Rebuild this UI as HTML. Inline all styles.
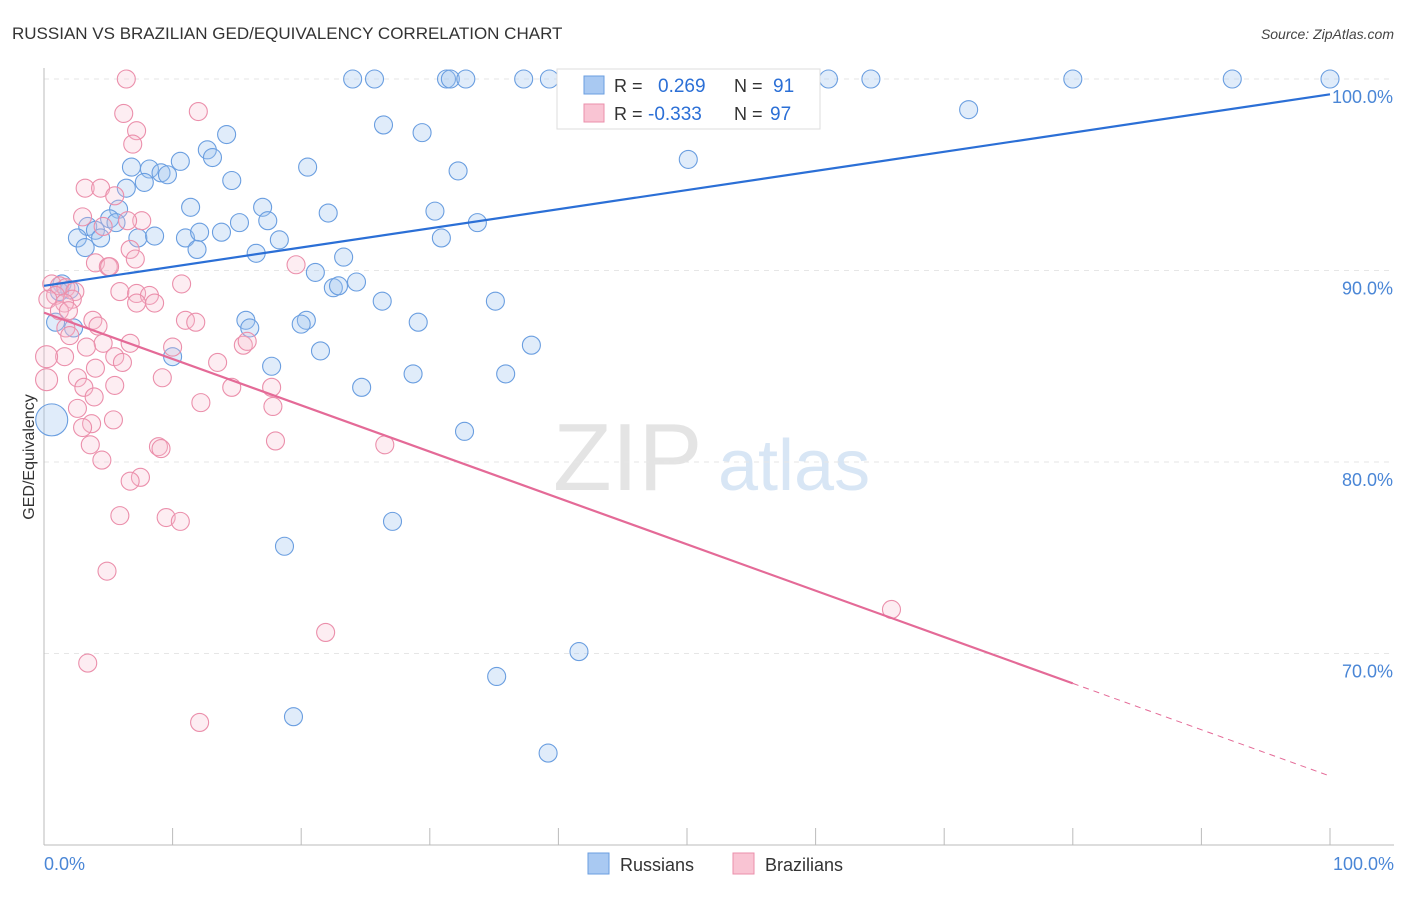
<!DOCTYPE html>
<html><head><meta charset="utf-8"><style>
body{margin:0;background:#fff;font-family:"Liberation Sans",sans-serif;}
svg text{font-family:"Liberation Sans",sans-serif;}
</style></head><body>
<svg id="chart" width="1406" height="892" viewBox="0 0 1406 892" xmlns="http://www.w3.org/2000/svg">
<text x="12" y="39" font-size="17" fill="#333">RUSSIAN VS BRAZILIAN GED/EQUIVALENCY CORRELATION CHART</text>
<text x="1394" y="39" font-size="14" fill="#444" font-style="italic" text-anchor="end">Source: ZipAtlas.com</text>
<g>
<text x="553" y="490" font-size="96" fill="#e4e4e4" font-family="Liberation Serif">ZIP</text>
<text x="718" y="490" font-size="72" fill="#d8e6f5">atlas</text>
</g>
<g id="grid"></g>
<g id="axes"></g>
<g id="pts"></g>
<g id="lines"></g>
<text transform="translate(34,457) rotate(-90)" font-size="16" fill="#333" text-anchor="middle">GED/Equivalency</text>
<g>
<rect x="557" y="69" width="263" height="60" fill="#fff" stroke="#ddd"/>
<rect x="584" y="76" width="20" height="18" fill="#a9c9f2" stroke="#6a9ee0"/>
<rect x="584" y="104" width="20" height="18" fill="#f9c4d3" stroke="#eb8fab"/>
<text x="614" y="92" font-size="18" fill="#333">R =</text>
<text x="658" y="92" font-size="19" fill="#2b6fd6">0.269</text>
<text x="734" y="92" font-size="18" fill="#333">N =</text>
<text x="773" y="92" font-size="19" fill="#2b6fd6">91</text>
<text x="614" y="120" font-size="18" fill="#333">R =</text>
<text x="648" y="120" font-size="19" fill="#2b6fd6">-0.333</text>
<text x="734" y="120" font-size="18" fill="#333">N =</text>
<text x="770" y="120" font-size="19" fill="#2b6fd6">97</text>
</g>
<g>
<rect x="588" y="853" width="21" height="21" fill="#a9c9f2" stroke="#6a9ee0"/>
<text x="620" y="871" font-size="18" fill="#333">Russians</text>
<rect x="733" y="853" width="21" height="21" fill="#f9c4d3" stroke="#eb8fab"/>
<text x="765" y="871" font-size="18" fill="#333">Brazilians</text>
</g>
</svg>
<script>
const blueX=[24.0,25.7,31.3,31.6,32.8,37.3,39.3,40.6,47.1,52.4,54.5,59.4,61.0,64.3,80.0,92.4,100,71.9,26.4,29.4,14.2,12.7,13.1,50.1,6.8,8.2,9.1,9.6,10.6,20.5,32.2,7.8,14.6,6.4,11.4,17.0,5.8,5.1,5.6,15.2,17.4,22.1,30.4,33.7,3.4,4.0,2.6,4.4,7.3,8.6,11.0,12.1,13.8,18.3,30.9,3.2,11.9,16.5,23.3,21.1,24.3,22.5,22.9,26.3,35.1,1.4,2.0,15.7,16.0,20.4,20.0,29.1,0.9,2.3,37.9,21.5,10.0,17.7,28.7,35.9,24.7,32.7,0.6,27.1,18.7,41.6,35.2,19.4,39.2,1.2];
const blueY=[100,100,100,100,100,100,100,100,100,100,100,100,100,100,100,100,100,98.4,97.6,97.2,97.1,96.3,95.9,95.8,95.4,95.3,95.1,95.0,95.7,95.4,95.2,94.6,94.7,94.3,93.3,93.3,93.2,92.7,92.5,92.5,92.6,93.0,93.1,92.5,92.3,92.1,91.7,91.7,91.7,91.8,91.7,92.0,92.0,91.6,91.7,91.2,91.1,90.9,90.7,89.9,89.4,89.1,89.2,88.4,88.4,89.3,89.0,87.4,87.0,87.4,87.2,87.3,87.3,87.0,86.1,85.8,85.5,85.0,84.6,84.6,83.9,81.6,82.2,76.9,75.6,70.1,68.8,66.7,64.8,88.9];
const blueBig=[82];
const pinkX=[6.4,12.0,6.2,7.2,6.9,3.2,4.4,5.5,3.0,7.6,6.5,4.6,6.7,7.1,4.0,5.0,5.1,19.6,10.7,0.6,1.2,1.7,2.4,0.9,2.2,0.3,1.6,5.9,7.2,8.2,8.6,7.2,1.2,1.9,3.8,11.0,11.8,4.2,1.7,2.0,4.6,6.7,10.0,3.3,5.5,6.1,13.5,1.6,0.2,15.5,15.8,4.0,9.2,2.6,0.2,5.5,14.6,17.7,3.1,3.9,17.8,12.2,2.6,3.7,5.4,3.0,18.0,8.9,9.1,26.5,3.6,4.5,7.5,6.7,5.9,9.5,10.6,4.9,21.9,65.9,3.4,12.1];
const pinkY=[100,98.3,98.2,97.3,96.6,94.3,94.3,93.9,92.8,92.6,92.6,92.3,91.1,90.6,90.4,90.2,90.2,90.3,89.3,89.3,89.2,89.1,88.9,88.7,88.5,88.5,88.3,88.9,88.8,88.7,88.3,88.3,87.9,87.9,87.4,87.4,87.3,87.1,87.0,86.6,86.2,86.2,86.0,86.0,85.5,85.2,85.2,85.5,85.5,86.1,86.3,84.9,84.4,84.4,84.3,84.0,83.9,83.9,83.9,83.4,82.9,83.1,82.8,82.0,82.2,81.8,81.1,80.8,80.7,80.9,80.9,80.1,79.2,79.0,77.2,77.1,76.9,74.3,71.1,72.3,69.5,66.4];
const pinkBig=[48,54];
const xTicks=[0,10,20,30,40,50,60,70,80,90,100];
const yTicks=[100,90,80,70];
const yTickLabels=["100.0%","90.0%","80.0%","70.0%"];
const blueTrend=[89.2,99.2];
const pinkTrend=[87.8,63.6];
const pinkSolidEnd=80;

const X=v=>44+v*12.86;
const Y=v=>79+(100-v)*19.15;
const NS="http://www.w3.org/2000/svg";
function mk(parent,tag,attrs){const e=document.createElementNS(NS,tag);for(const k in attrs)e.setAttribute(k,attrs[k]);document.getElementById(parent).appendChild(e);return e;}

yTicks.forEach((t,i)=>{
 const g=mk('grid','line',{x1:44,x2:1394,y1:Y(t),y2:Y(t),stroke:'#e6e6e6','stroke-dasharray':'5,5'});
 
 
 const l=mk('axes','text',{x:1393,y:Y(t)+24,'font-size':18,fill:'#4a86d6','text-anchor':'end'});
 l.textContent=yTickLabels[i];
 
 
});
let a=mk('axes','line',{x1:44,x2:44,y1:68,y2:845,stroke:'#bbb'});


a=mk('axes','line',{x1:44,x2:1394,y1:845,y2:845,stroke:'#bbb'});


xTicks.forEach(t=>{
 const e=mk('axes','line',{x1:X(t),x2:X(t),y1:828,y2:845,stroke:'#bbb'});
 
 
});
let t0=mk('axes','text',{x:44,y:870,'font-size':18,fill:'#4a86d6'});t0.textContent='0.0%';


let t1=mk('axes','text',{x:1394,y:870,'font-size':18,fill:'#4a86d6','text-anchor':'end'});t1.textContent='100.0%';



blueX.forEach((x,i)=>{
 const c=mk('pts','circle',{cx:X(x),cy:Y(blueY[i]),r:blueBig.includes(i)?16:9,fill:'rgba(160,195,240,0.32)',stroke:'#6a9ee0','stroke-width':1.1});
 
 
});
pinkX.forEach((x,i)=>{
 const c=mk('pts','circle',{cx:X(x),cy:Y(pinkY[i]),r:pinkBig.includes(i)?11:9,fill:'rgba(248,190,208,0.28)',stroke:'#eb8fab','stroke-width':1.1});
 
 
});
let bl=mk('lines','line',{x1:X(0),y1:Y(blueTrend[0]),x2:X(100),y2:Y(blueTrend[1]),stroke:'#2b6fd6','stroke-width':2.2});


const pAt=v=>pinkTrend[0]+(pinkTrend[1]-pinkTrend[0])*v/100;
let pl=mk('lines','line',{x1:X(0),y1:Y(pinkTrend[0]),x2:X(pinkSolidEnd),y2:Y(pAt(pinkSolidEnd)),stroke:'#e46a97','stroke-width':2.2});


let pd=mk('lines','line',{x1:X(pinkSolidEnd),y1:Y(pAt(pinkSolidEnd)),x2:X(100),y2:Y(pinkTrend[1]),stroke:'#e46a97','stroke-width':1,'stroke-dasharray':'6,5'});


</script>
</body></html>
